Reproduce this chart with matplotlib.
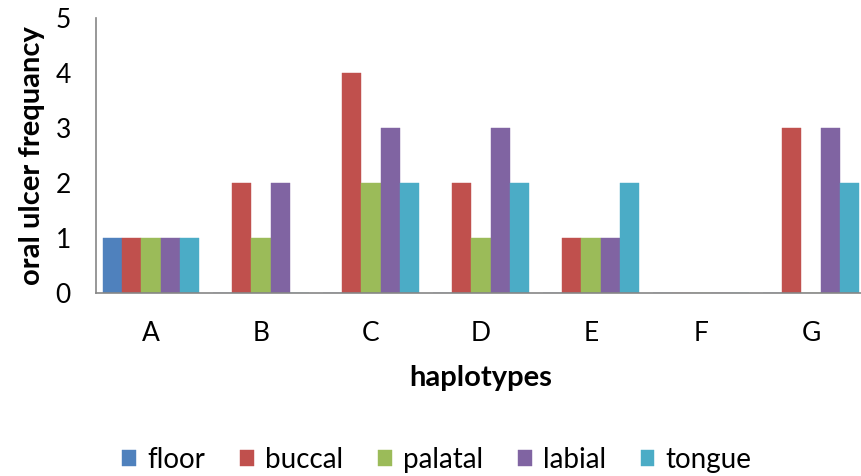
import matplotlib.pyplot as plt
import numpy as np

plt.rcParams['font.family'] = ['Lato', 'DejaVu Sans']

haplotypes = ['A', 'B', 'C', 'D', 'E', 'F', 'G']
floor = [1, 0, 0, 0, 0, 0, 0]
buccal = [1, 2, 4, 2, 1, 0, 3]
palatal = [1, 1, 2, 1, 1, 0, 0]
labial = [1, 2, 3, 3, 1, 0, 3]
tongue = [1, 0, 2, 2, 2, 0, 2]

series = [('floor', floor, '#4F81BD'),
          ('buccal', buccal, '#C0504D'),
          ('palatal', palatal, '#9BBB59'),
          ('labial', labial, '#8064A2'),
          ('tongue', tongue, '#4BACC6')]

fig = plt.figure(figsize=(8.61, 4.76), dpi=100)
# axes runs a bit past the right edge, like the cropped original
ax = fig.add_axes([96 / 861, (476 - 293) / 476, 770 / 861, 275 / 476])

x = np.arange(len(haplotypes))
bw = 0.175
for k, (name, vals, col) in enumerate(series):
    ax.bar(x + (k - 2) * bw, vals, bw, color=col, label=name,
           edgecolor=col, linewidth=0.3)

ax.set_xlim(-0.5, 6.5)
ax.set_ylim(0, 5)
ax.set_yticks(range(6))
ax.set_xticks(x)
ax.set_xticklabels(haplotypes)
ax.tick_params(length=0, labelsize=19, colors='black')
ax.tick_params(axis='x', pad=20)
ax.tick_params(axis='y', pad=18)

for s in ['top', 'right']:
    ax.spines[s].set_visible(False)
for s in ['left', 'bottom']:
    ax.spines[s].set_color('#868686')
    ax.spines[s].set_linewidth(1.2)

ax.set_xlabel('haplotypes', fontsize=21, fontweight='bold', labelpad=14)
ax.set_ylabel('oral ulcer frequancy', fontsize=21, fontweight='bold', labelpad=8)

fig.legend(loc='center', bbox_to_anchor=(437 / 861, 1 - 460 / 476), ncol=5,
           frameon=False, fontsize=20, handlelength=0.5, handleheight=0.5,
           handletextpad=0.4, columnspacing=1.25)

fig.savefig('out.png', dpi=100)
